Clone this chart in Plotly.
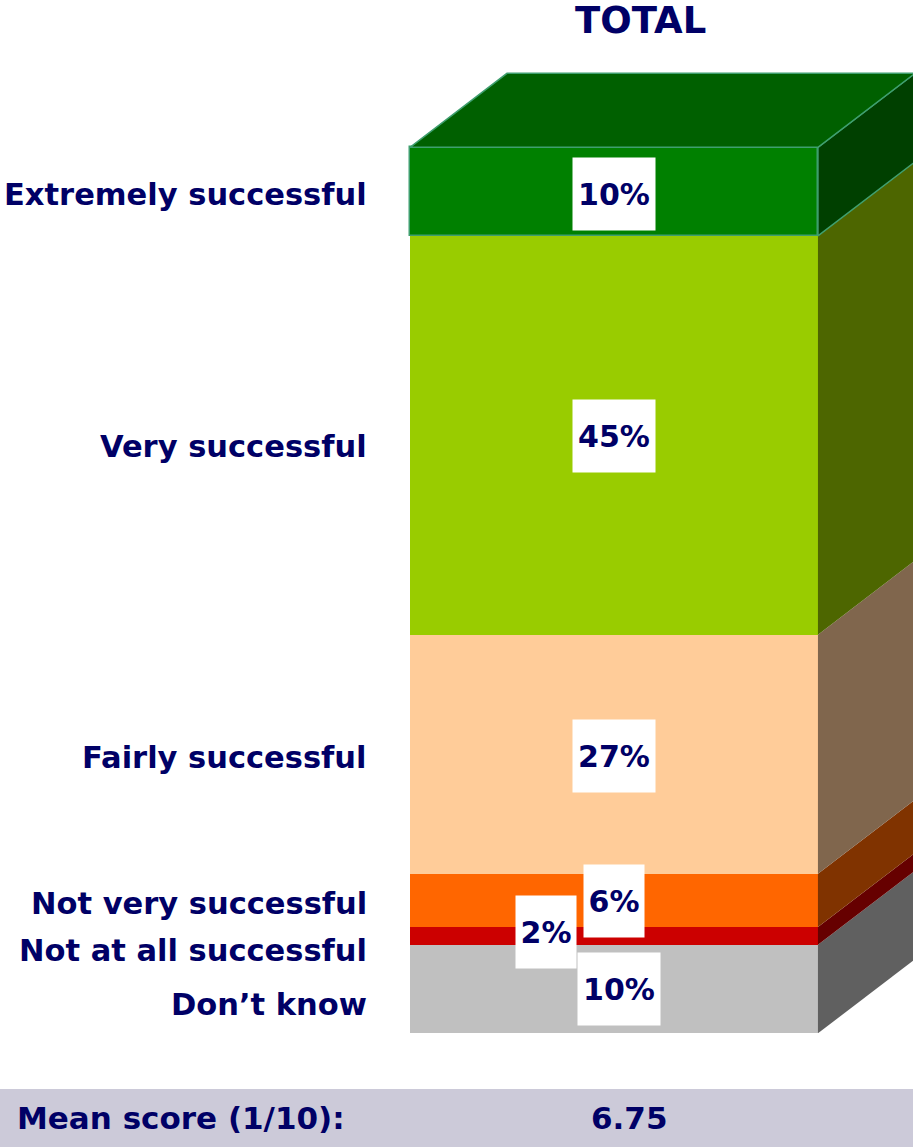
import plotly.graph_objects as go

# ---------------- data ----------------
categories = ["Extremely successful", "Very successful", "Fairly successful",
              "Not very successful", "Not at all successful", "Don’t know"]
values = [10, 45, 27, 6, 2, 10]
value_labels = ["10%", "45%", "27%", "6%", "2%", "10%"]
column_title = "TOTAL"
mean_label = "Mean score (1/10):"
mean_value = "6.75"

# ---------------- style ----------------
front_colors = ["#008000", "#99cc00", "#ffcc99", "#ff6600", "#cc0000", "#c0c0c0"]
side_colors = ["#004000", "#4d6600", "#80664d", "#803300", "#660000", "#606060"]
top_color = "#006000"
edge_color = "#3f9f6f"
text_color = "#000066"
band_color = "#cccad9"
FONT = "DejaVu Sans"

# label offsets (pixels)
label_yshift = [-2.5, -11, -3, -3, -15, -15.5]
value_xshift = [0, 0, 0, 0, -68, 5]
value_yshift = [-2, -1, -2, -1, 4, 0]
value_box_w = [82, 82, 82, 60, 60, 82]

W, H = 913, 1147
Y_RANGE = [-12.83, 116.63]
X_RANGE = [-1.505, 0.733]
px_per_y = H / (Y_RANGE[1] - Y_RANGE[0])
px_per_x = W / (X_RANGE[1] - X_RANGE[0])
DEPTH_X = 97 / px_per_x
DEPTH_Y = 74 / px_per_y
BAR_W = 1.0

fig = go.Figure()

# stack from bottom
n = len(values)
order = list(range(n))[::-1]
bases = {}
cum = 0
for i in order:
    bases[i] = cum
    cum += values[i]
total = cum

# side faces
for i in order:
    lo, hi = bases[i], bases[i] + values[i]
    x1 = BAR_W / 2
    xs = [x1, x1, x1 + DEPTH_X, x1 + DEPTH_X, x1]
    ys = [lo, hi, hi + DEPTH_Y, lo + DEPTH_Y, lo]
    fig.add_trace(go.Scatter(
        x=xs, y=ys, mode="lines", fill="toself", fillcolor=side_colors[i],
        line=dict(color=edge_color if i == 0 else side_colors[i], width=1.5 if i == 0 else 0),
        hoverinfo="skip", showlegend=False))

# top face
x0, x1 = -BAR_W / 2, BAR_W / 2
fig.add_trace(go.Scatter(
    x=[x0, x1, x1 + DEPTH_X, x0 + DEPTH_X, x0],
    y=[total, total, total + DEPTH_Y, total + DEPTH_Y, total],
    mode="lines", fill="toself", fillcolor=top_color,
    line=dict(color=edge_color, width=1.5), hoverinfo="skip", showlegend=False))

# front faces
for i in order:
    fig.add_trace(go.Bar(
        x=[0], y=[values[i]], base=[bases[i]], width=[BAR_W],
        marker=dict(color=front_colors[i],
                    line=dict(color=edge_color if i == 0 else front_colors[i],
                              width=1.5 if i == 0 else 0)),
        name=categories[i], showlegend=False, hoverinfo="skip"))

annotations = []
for i in range(n):
    mid = bases[i] + values[i] / 2
    annotations.append(dict(
        x=369 / W, xref="paper", y=mid, yref="y", xanchor="right", yanchor="middle",
        yshift=label_yshift[i], showarrow=False,
        text="<b>%s</b>" % categories[i],
        font=dict(family=FONT, size=30.5, color=text_color)))
    annotations.append(dict(
        x=0, xref="x", y=mid, yref="y", xanchor="center", yanchor="middle",
        xshift=value_xshift[i], yshift=value_yshift[i], showarrow=False,
        text="<b>%s</b>" % value_labels[i], bgcolor="white", borderpad=0,
        width=value_box_w[i], height=72, align="center", valign="middle",
        font=dict(family=FONT, size=30, color=text_color)))

annotations.append(dict(
    x=640 / W, xref="paper", y=1 - 21 / H, yref="paper", xanchor="center", yanchor="middle",
    showarrow=False, text="<b>%s</b>" % column_title,
    font=dict(family=FONT, size=37, color=text_color)))
annotations.append(dict(
    x=15 / W, xref="paper", y=(H - 1118) / H, yref="paper", xanchor="left", yanchor="middle",
    showarrow=False, text="<b>%s</b>" % mean_label,
    font=dict(family=FONT, size=31, color=text_color)))
annotations.append(dict(
    x=629.5 / W, xref="paper", y=(H - 1118) / H, yref="paper", xanchor="center", yanchor="middle",
    showarrow=False, text="<b>%s</b>" % mean_value,
    font=dict(family=FONT, size=31, color=text_color)))

fig.add_shape(type="rect", xref="paper", yref="paper", x0=0, x1=1,
              y0=0, y1=(H - 1089) / H, fillcolor=band_color, line=dict(width=0),
              layer="below")

fig.update_layout(
    width=W, height=H, margin=dict(l=0, r=0, t=0, b=0),
    paper_bgcolor="white", plot_bgcolor="rgba(0,0,0,0)",
    barmode="overlay", bargap=0,
    xaxis=dict(range=X_RANGE, visible=False, fixedrange=True),
    yaxis=dict(range=Y_RANGE, visible=False, fixedrange=True),
    annotations=annotations, showlegend=False)

fig.write_html("out.html")
